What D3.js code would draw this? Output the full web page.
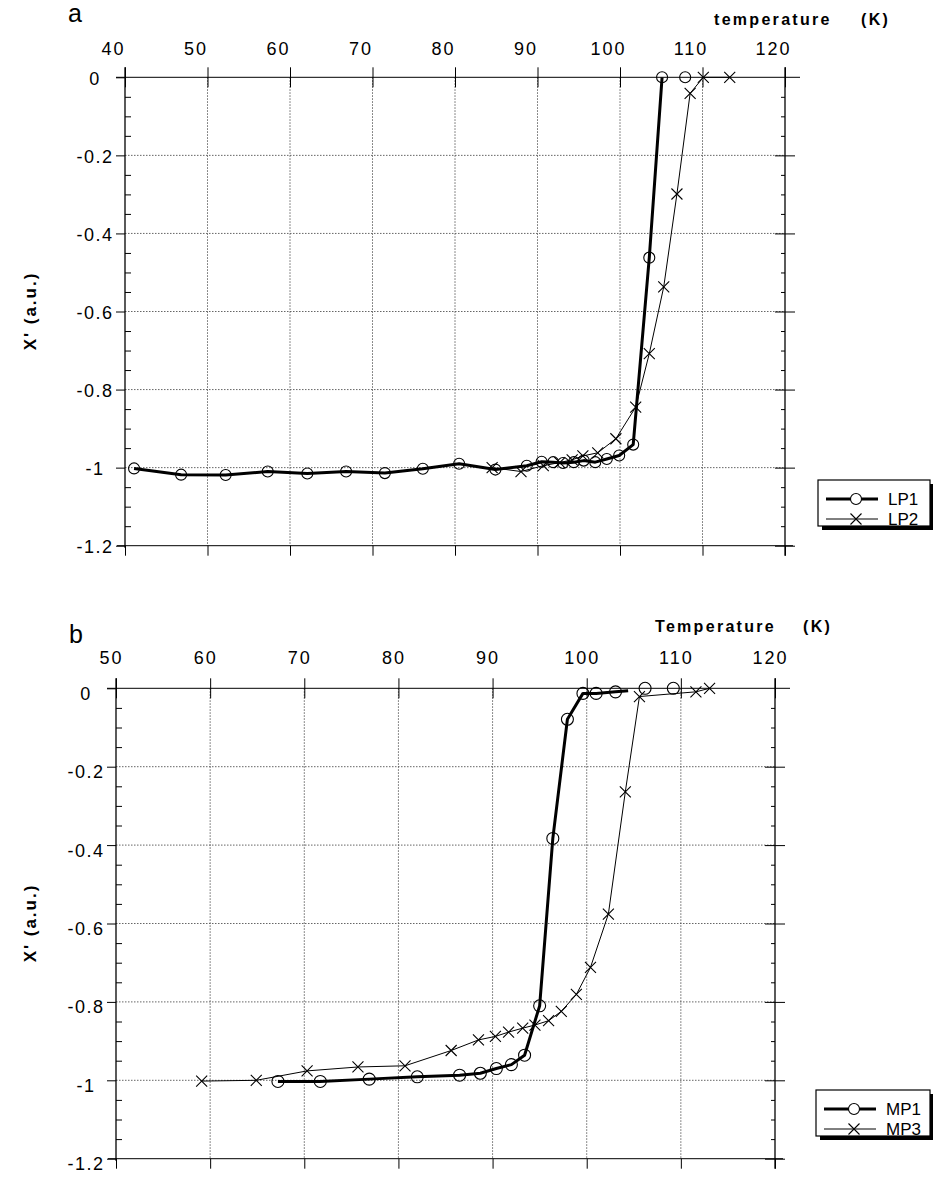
<!DOCTYPE html>
<html><head><meta charset="utf-8">
<script src="https://cdn.jsdelivr.net/npm/d3@7"></script>
<style>body{margin:0;background:#fff}svg text{font-family:"Liberation Sans",Arial,sans-serif;fill:#000}</style>
</head><body>
<svg id="c" width="933" height="1178"></svg>
<script>
// ---- Panel a data ----
const lp1T = [41.1, 46.8, 52.2, 57.3, 62.1, 66.8, 71.5, 76.1, 80.5, 84.9, 88.7, 90.5, 91.9, 93.1, 94.4, 95.6, 97.0, 98.4, 99.9, 101.6, 103.55, 105.1];
const lp1V = [-1.002, -1.018, -1.019, -1.010, -1.015, -1.010, -1.014, -1.003, -0.990, -1.005, -0.995, -0.985, -0.986, -0.988, -0.986, -0.982, -0.986, -0.978, -0.969, -0.941, -0.462, 0];
const lp1ExtraT = [107.9];
const lp1ExtraV = [0];
const lp2T = [84.5, 88.0, 90.7, 92.7, 94.2, 95.5, 97.3, 99.5, 101.9, 103.55, 105.3, 106.9, 108.5, 110.1, 113.3];
const lp2V = [-1.0, -1.010, -0.995, -0.987, -0.980, -0.970, -0.962, -0.926, -0.845, -0.708, -0.537, -0.299, -0.041, 0, 0];
// ---- Panel b data ----
const mp1T = [67.2, 71.7, 76.9, 82.0, 86.5, 88.7, 90.4, 92.0, 93.4, 95.0, 96.4, 97.95, 99.6, 101.0, 103.06, 104.4];
const mp1V = [-1.003, -1.003, -0.997, -0.991, -0.987, -0.982, -0.970, -0.960, -0.936, -0.810, -0.383, -0.079, -0.013, -0.013, -0.009, -0.006];
const mp1MarkT = [67.2, 71.7, 76.9, 82.0, 86.5, 88.7, 90.4, 92.0, 93.4, 95.0, 96.4, 97.95, 99.6, 101.0, 103.06, 106.2, 109.2];
const mp1MarkV = [-1.003, -1.003, -0.997, -0.991, -0.987, -0.982, -0.970, -0.960, -0.936, -0.810, -0.383, -0.079, -0.013, -0.013, -0.009, 0, 0];
const mp3T = [59.1, 64.9, 70.3, 75.7, 80.7, 85.6, 88.5, 90.3, 91.7, 93.2, 94.5, 95.95, 97.3, 98.9, 100.4, 102.3, 104.1, 105.6, 111.6, 113.05];
const mp3V = [-1.002, -1.0, -0.976, -0.966, -0.963, -0.924, -0.897, -0.888, -0.877, -0.867, -0.859, -0.848, -0.824, -0.781, -0.712, -0.576, -0.264, -0.021, -0.009, 0];
// ---- ticks / labels ----
const xTicksA = [40, 50, 60, 70, 80, 90, 100, 110, 120];
const xTicksB = [50, 60, 70, 80, 90, 100, 110, 120];
const yTicks = [0, -0.2, -0.4, -0.6, -0.8, -1, -1.2];
const yTickLabels = ["0", "-0.2", "-0.4", "-0.6", "-0.8", "-1", "-1.2"];
const yMinor = d3.range(0, 25).map(i => -i * 0.05).filter(v => Math.abs(Math.round(v / 0.2) * 0.2 - v) > 1e-6);

const svg = d3.select("#c");

function panel(o) {
  const g = svg.append("g");
  const x = d3.scaleLinear().domain(o.xDomain).range([o.left, o.right]);
  const y = d3.scaleLinear().domain([0, -1.2]).range([o.top, o.bottom]);

  // gridlines
  g.append("g").selectAll("line").data(o.xTicks.slice(1, -1)).join("line")
    .attr("x1", d => x(d)).attr("x2", d => x(d)).attr("y1", y(0)).attr("y2", y(-1.2))
    .attr("stroke", "#555").attr("stroke-width", 0.9).attr("stroke-dasharray", "1.5,1.5");
  g.append("g").selectAll("line").data(yTicks.slice(1, -1)).join("line")
    .attr("x1", x.range()[0]).attr("x2", x.range()[1]).attr("y1", d => y(d)).attr("y2", d => y(d))
    .attr("stroke", "#555").attr("stroke-width", 0.9).attr("stroke-dasharray", "1.5,1.5");

  // frame lines
  g.append("line").attr("x1", o.left - 9).attr("x2", o.right + 15).attr("y1", y(0)).attr("y2", y(0)).attr("stroke", "#000");
  g.append("line").attr("x1", o.left - 8).attr("x2", o.right + 8).attr("y1", y(-1.2)).attr("y2", y(-1.2)).attr("stroke", "#000");
  g.append("line").attr("x1", o.left).attr("x2", o.left).attr("y1", y(0) - 10).attr("y2", y(-1.2) + 2).attr("stroke", "#000").attr("stroke-width", 1.3);
  g.append("line").attr("x1", o.right).attr("x2", o.right).attr("y1", y(0) - 10).attr("y2", y(-1.2) + 10).attr("stroke", "#000").attr("stroke-width", 1.3);

  // top axis with labels
  const top = g.append("g").attr("transform", `translate(0,${y(0)})`)
    .call(d3.axisTop(x).tickValues(o.xTicks).tickSize(10).tickFormat(d3.format("d")));
  top.select(".domain").remove();
  top.selectAll(".tick line").attr("y1", 10).attr("y2", -10).attr("stroke", "#000");
  top.selectAll(".tick text").attr("x", o.xLabelDx).attr("y", o.xLabelY - y(0)).attr("dy", null)
    .attr("font-size", 18).attr("letter-spacing", 2).attr("text-anchor", "middle").attr("font-family", null);

  // bottom ticks
  const bot = g.append("g").attr("transform", `translate(0,${y(-1.2)})`)
    .call(d3.axisBottom(x).tickValues(o.xTicks).tickSize(10).tickFormat(""));
  bot.select(".domain").remove();
  bot.selectAll(".tick line").attr("stroke", "#000");

  // left axis: major ticks + labels
  const la = g.append("g").attr("transform", `translate(${o.left},0)`)
    .call(d3.axisLeft(y).tickValues(yTicks).tickSize(9).tickFormat((d, i) => yTickLabels[i]));
  la.select(".domain").remove();
  la.selectAll(".tick line").attr("stroke", "#000").attr("x1", 0);
  la.selectAll(".tick text").attr("x", -30).attr("dy", null).attr("y", o.yLabelDy)
    .attr("text-anchor", "middle").attr("font-size", 18).attr("letter-spacing", 1.5).attr("font-family", null);
  // left minor ticks (inward)
  const lm = g.append("g").attr("transform", `translate(${o.left},0)`)
    .call(d3.axisRight(y).tickValues(yMinor).tickSize(6).tickFormat(""));
  lm.select(".domain").remove();
  lm.selectAll(".tick line").attr("stroke", "#000");

  // right axis: major crossing ticks + minor inward
  const ra = g.append("g").attr("transform", `translate(${o.right},0)`)
    .call(d3.axisRight(y).tickValues(yTicks.slice(1)).tickSize(10).tickFormat(""));
  ra.select(".domain").remove();
  ra.selectAll(".tick line").attr("x1", -10).attr("stroke", "#000");
  const rm = g.append("g").attr("transform", `translate(${o.right},0)`)
    .call(d3.axisLeft(y).tickValues(yMinor).tickSize(4).tickFormat(""));
  rm.select(".domain").remove();
  rm.selectAll(".tick line").attr("stroke", "#000");

  // series
  const line = d3.line().x(d => x(d[0])).y(d => y(d[1]));
  const s1 = d3.zip(o.s1T, o.s1V), s2 = d3.zip(o.s2T, o.s2V);
  g.append("path").datum(s2).attr("d", line).attr("fill", "none").attr("stroke", "#000").attr("stroke-width", 1).attr("stroke-linejoin", "round");
  g.append("path").datum(s1).attr("d", line).attr("fill", "none").attr("stroke", "#000").attr("stroke-width", 3).attr("stroke-linejoin", "round");
  const xm = `M-5.5,-5.5L5.5,5.5M-5.5,5.5L5.5,-5.5`;
  g.append("g").selectAll("path").data(s2).join("path")
    .attr("transform", d => `translate(${x(d[0])},${y(d[1])})`).attr("d", xm)
    .attr("stroke", "#000").attr("stroke-width", 1.1).attr("fill", "none");
  g.append("g").selectAll("circle").data(d3.zip(o.m1T, o.m1V)).join("circle")
    .attr("cx", d => x(d[0])).attr("cy", d => y(d[1])).attr("r", o.r)
    .attr("stroke", "#000").attr("stroke-width", 1.1).attr("fill", "none");

  // titles
  g.append("text").attr("x", o.panelX).attr("y", o.panelY).attr("font-size", 25).text(o.panel);
  g.append("text").attr("x", o.titleX).attr("y", o.titleY).attr("font-size", 16).attr("font-weight", "bold")
    .attr("letter-spacing", 2.3).text(o.title);
  g.append("text").attr("x", o.titleX + o.kDx).attr("y", o.titleY).attr("font-size", 16).attr("font-weight", "bold")
    .attr("letter-spacing", 2.3).text("(K)");
  g.append("text").attr("transform", `translate(36,${o.yTitleY}) rotate(-90)`).attr("text-anchor", "middle")
    .attr("font-size", 17).attr("font-weight", "bold").attr("letter-spacing", 2).text("X' (a.u.)");

  // legend
  const L = o.legend;
  g.append("rect").attr("x", L.x + 4).attr("y", L.y + 4).attr("width", L.w).attr("height", L.h).attr("fill", "#000");
  g.append("rect").attr("x", L.x).attr("y", L.y).attr("width", L.w).attr("height", L.h).attr("fill", "#fff").attr("stroke", "#000").attr("stroke-width", 1.2);
  const rows = [{n: o.names[0], w: 3, m: "c", yy: L.y + 19}, {n: o.names[1], w: 1, m: "x", yy: L.y + 39}];
  rows.forEach(rw => {
    g.append("line").attr("x1", L.x + 8).attr("x2", L.x + 60).attr("y1", rw.yy).attr("y2", rw.yy).attr("stroke", "#000").attr("stroke-width", rw.w);
    if (rw.m === "c") g.append("circle").attr("cx", L.x + 38).attr("cy", rw.yy).attr("r", 5.5).attr("fill", "#fff").attr("stroke", "#000").attr("stroke-width", 1.1);
    else g.append("path").attr("transform", `translate(${L.x + 38},${rw.yy})`).attr("d", xm).attr("stroke", "#000").attr("stroke-width", 1.1);
    g.append("text").attr("x", L.x + 70).attr("y", rw.yy + 6).attr("font-size", 17).text(rw.n);
  });
}

panel({
  xDomain: [40, 120], xTicks: xTicksA, left: 125, right: 785, top: 77.3, bottom: 545.7,
  xLabelDx: -12, xLabelY: 55, yLabelDy: 7,
  s1T: lp1T, s1V: lp1V, s2T: lp2T, s2V: lp2V,
  m1T: lp1T.concat(lp1ExtraT), m1V: lp1V.concat(lp1ExtraV), r: 5.5,
  panel: "a", panelX: 68, panelY: 22, title: "temperature", titleX: 714, titleY: 25, kDx: 147, yTitleY: 311,
  names: ["LP1", "LP2"], legend: {x: 818, y: 480, w: 112, h: 46}
});
panel({
  xDomain: [50, 120], xTicks: xTicksB, left: 116, right: 775, top: 688.3, bottom: 1158.7,
  xLabelDx: -5, xLabelY: 664, yLabelDy: 11,
  s1T: mp1T, s1V: mp1V, s2T: mp3T, s2V: mp3V,
  m1T: mp1MarkT, m1V: mp1MarkV, r: 6,
  panel: "b", panelX: 69, panelY: 643, title: "Temperature", titleX: 655, titleY: 632, kDx: 148, yTitleY: 923,
  names: ["MP1", "MP3"], legend: {x: 816, y: 1090, w: 114, h: 46}
});
</script>
</body></html>
